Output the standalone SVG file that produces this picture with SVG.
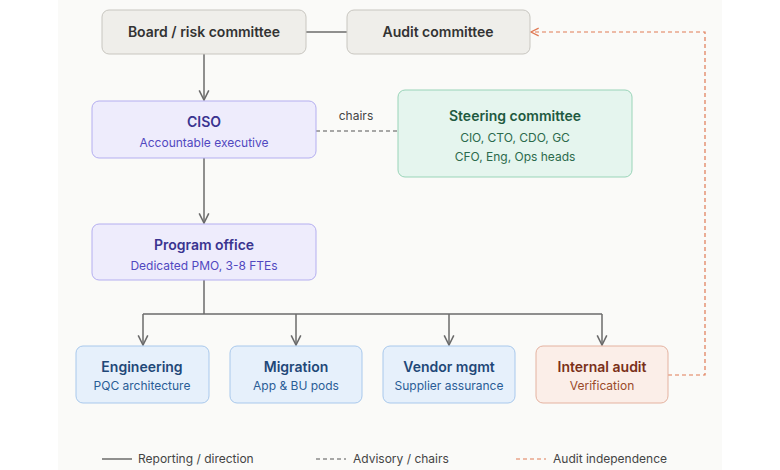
<svg xmlns="http://www.w3.org/2000/svg" width="780" height="470" viewBox="0 0 780 470">
<style>
text{font-family:Inter,"Liberation Sans",sans-serif;text-anchor:middle}
.t{font-size:14px;font-weight:600}
.s{font-size:12px}
.c{stroke:#6b6b6b;stroke-width:1.5;fill:none}
.d{stroke:#555;stroke-width:1.2;stroke-dasharray:4 3;fill:none}
.o{stroke:#e07a55;stroke-width:1.2;stroke-dasharray:4 3;fill:none}
.lg{font-size:12px;fill:#444;text-anchor:start}
</style>
<defs>
<marker id="a" viewBox="0 0 10 10" refX="9" refY="5" markerWidth="8" markerHeight="8" orient="auto"><path d="M1 1L9 5L1 9" fill="none" stroke="#6b6b6b" stroke-width="1.3"/></marker>
<marker id="ao" viewBox="0 0 10 10" refX="9" refY="5" markerWidth="8" markerHeight="8" orient="auto"><path d="M1 1L9 5L1 9" fill="none" stroke="#e07a55" stroke-width="1.3"/></marker>
</defs>
<rect width="780" height="470" fill="#fff"/>
<rect x="58" y="0" width="664" height="470" fill="#fafaf8"/>
<g id="connectors">
<path class="c" d="M306 32H347"/>
<path class="c" d="M204 54V100" marker-end="url(#a)"/>
<path class="c" d="M204 158V223" marker-end="url(#a)"/>
<path class="c" d="M204 280V314M143 314H602"/>
<path class="c" d="M143 314V345" marker-end="url(#a)"/>
<path class="c" d="M296 314V345" marker-end="url(#a)"/>
<path class="c" d="M449 314V345" marker-end="url(#a)"/>
<path class="c" d="M602 314V345" marker-end="url(#a)"/>
<path class="d" d="M316 131H398"/>
<text x="356" y="120" class="s" fill="#444">chairs</text>
<path class="o" d="M668 375H705V32H531" marker-end="url(#ao)"/>
</g>
<g id="board"><rect x="102" y="10" width="204" height="44" rx="7" fill="#efeeea" stroke="#c8c6c0"/><text x="204" y="37" class="t" fill="#333">Board / risk committee</text></g>
<g id="audit"><rect x="347" y="10" width="183" height="44" rx="7" fill="#efeeea" stroke="#c8c6c0"/><text x="438" y="37" class="t" fill="#333">Audit committee</text></g>
<g id="ciso"><rect x="92" y="101" width="224" height="57" rx="7" fill="#eeecfc" stroke="#b4aef0"/><text x="204" y="127" class="t" fill="#3a3490">CISO</text><text x="204" y="147" class="s" fill="#5148c0">Accountable executive</text></g>
<g id="steering"><rect x="398" y="90" width="234" height="87" rx="7" fill="#e5f5ee" stroke="#99d4b8"/><text x="515" y="121" class="t" fill="#1f5a40">Steering committee</text><text x="515" y="142" class="s" fill="#2b6a4c">CIO, CTO, CDO, GC</text><text x="515" y="161" class="s" fill="#2b6a4c">CFO, Eng, Ops heads</text></g>
<g id="pmo"><rect x="92" y="224" width="224" height="56" rx="7" fill="#eeecfc" stroke="#b4aef0"/><text x="204" y="250" class="t" fill="#3a3490">Program office</text><text x="204" y="270" class="s" fill="#5148c0">Dedicated PMO, 3-8 FTEs</text></g>
<g id="eng"><rect x="76" y="346" width="133" height="57" rx="7" fill="#e6f0fb" stroke="#a8c8ec"/><text x="142" y="372" class="t" fill="#1f4878">Engineering</text><text x="142" y="390" class="s" fill="#2a5d96">PQC architecture</text></g>
<g id="mig"><rect x="230" y="346" width="132" height="57" rx="7" fill="#e6f0fb" stroke="#a8c8ec"/><text x="296" y="372" class="t" fill="#1f4878">Migration</text><text x="296" y="390" class="s" fill="#2a5d96">App &amp; BU pods</text></g>
<g id="vendor"><rect x="383" y="346" width="132" height="57" rx="7" fill="#e6f0fb" stroke="#a8c8ec"/><text x="449" y="372" class="t" fill="#1f4878">Vendor mgmt</text><text x="449" y="390" class="s" fill="#2a5d96">Supplier assurance</text></g>
<g id="internal"><rect x="536" y="346" width="132" height="57" rx="7" fill="#fbeee8" stroke="#e4b2a0"/><text x="602" y="372" class="t" fill="#7a3018">Internal audit</text><text x="602" y="390" class="s" fill="#9a4a2a">Verification</text></g>
<g id="legend">
<path class="c" d="M102 459H132"/><text x="138" y="463" class="lg">Reporting / direction</text>
<path class="d" d="M316 459H346"/><text x="353" y="463" class="lg">Advisory / chairs</text>
<path class="o" d="M516 459H546"/><text x="553" y="463" class="lg">Audit independence</text>
</g>
</svg>
